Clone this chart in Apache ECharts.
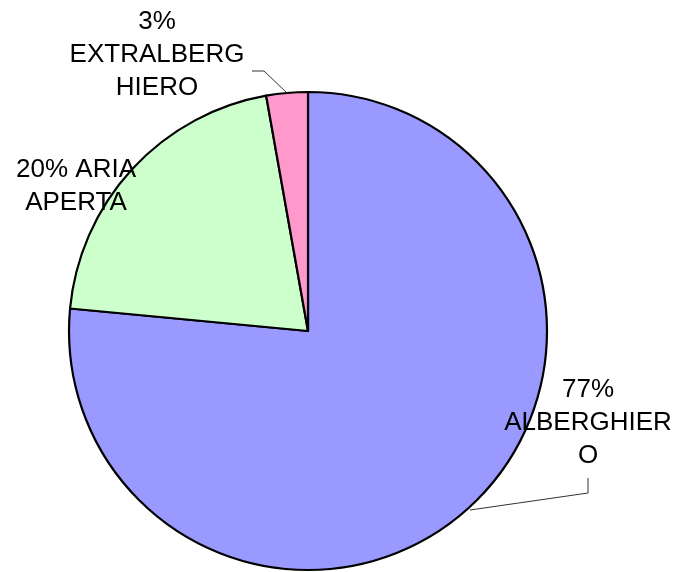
<!DOCTYPE html>
<html>
<head>
<meta charset="utf-8">
<script src="https://cdn.jsdelivr.net/npm/echarts@6/dist/echarts.min.js"></script>
<style>
  html, body { margin: 0; padding: 0; background: #fff; }
  #chart { width: 680px; height: 572px; }
</style>
</head>
<body>
<div id="chart"></div>
<script>
// slices, clockwise from 12 o'clock
var names = ['ALBERGHIERO', 'ARIA APERTA', 'EXTRALBERGHIERO'];
var values = [76.5, 20.7, 2.8];
var labels = ['77%\nALBERGHIER\nO', '20% ARIA\nAPERTA', '3%\nEXTRALBERG\nHIERO'];
var colors = ['#9999FF', '#CCFFCC', '#FF99CC'];

// where each label sits (centre of text block) and its leader line
var labelPos = [
    { x: 588, y: 423, line: [[470, 510], [588, 493], [588, 478]] },
    { x: 76, y: 186, line: null },
    { x: 157, y: 55, line: [[286, 92], [264, 71], [252, 71]] }
];

var chart = echarts.init(document.getElementById('chart'));

var option = {
    animation: false,
    series: [{
        type: 'pie',
        center: [308, 331],
        radius: 239,
        startAngle: 90,
        clockwise: true,
        data: names.map(function(n, i) {
            return {
                name: n,
                value: values[i],
                itemStyle: { color: colors[i] },
                labelLine: { show: labelPos[i].line != null }
            };
        }),
        itemStyle: {
            borderColor: '#000',
            borderWidth: 2.2
        },
        label: {
            show: true,
            formatter: function(p) {
                return labels[p.dataIndex];
            },
            fontFamily: 'Liberation Sans, Arial, sans-serif',
            fontSize: 26,
            lineHeight: 33,
            color: '#000',
            align: 'center',
            overflow: 'none'
        },
        labelLine: {
            show: true,
            lineStyle: { color: '#333', width: 1 }
        },
        labelLayout: function(params) {
            var p = labelPos[params.dataIndex];
            var out = {
                x: p.x,
                y: p.y,
                align: 'center',
                verticalAlign: 'middle',
                width: 300
            };
            if (p.line) {
                out.labelLinePoints = p.line;
            }
            return out;
        }
    }]
};

chart.setOption(option);
</script>
</body>
</html>
